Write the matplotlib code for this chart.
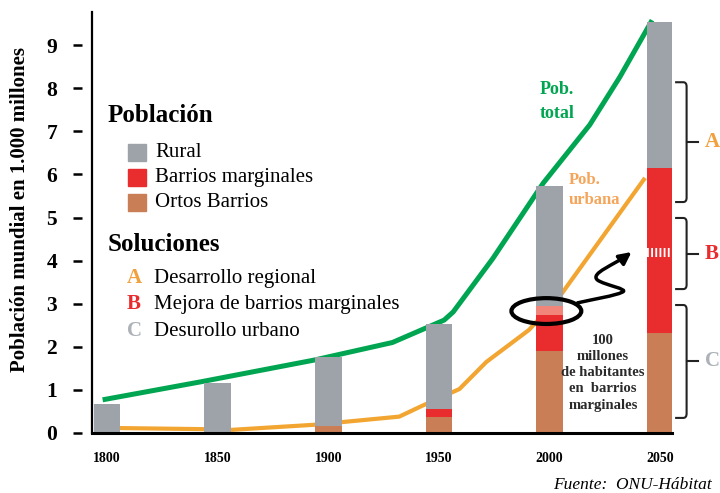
import matplotlib.pyplot as plt
from matplotlib.patches import Ellipse, Rectangle, FancyArrowPatch, PathPatch
from matplotlib.path import Path

plt.rcParams['font.family'] = ['Liberation Serif', 'DejaVu Serif']

# population (1.000 millones) per bar, bottom to top
years = [1800, 1850, 1900, 1950, 2000, 2050]
otros = [0.0, 0.0, 0.16, 0.36, 1.90, 2.32]
marginales = [0.0, 0.0, 0.0, 0.19, 0.84, 3.83]
marginales_100m = [0.0, 0.0, 0.0, 0.0, 0.21, 0.0]
rural = [0.68, 1.15, 1.60, 1.98, 2.78, 3.39]

# curves
total_x = [1798, 1842.6, 1893.4, 1929, 1952.4, 1956.5, 1974.4, 1997.2, 2018.2, 2031.8, 2046.4]
total_y = [0.77, 1.19, 1.69, 2.10, 2.62, 2.81, 4.05, 5.80, 7.15, 8.26, 9.58]
urbana_x = [1797, 1842.6, 1855.3, 1893.4, 1932.1, 1942.4, 1959.3, 1971.5, 1990.7, 2004.5, 2043.2]
urbana_y = [0.12, 0.09, 0.07, 0.19, 0.38, 0.63, 1.02, 1.65, 2.39, 3.16, 5.92]

# brace ranges on the 2050 bar
braces = [('A', 5.36, 8.14), ('B', 3.34, 4.99), ('C', 0.35, 2.97)]
marca_2050 = (4.08, 0.22)

c_gris = '#9ea3a9'
c_rojo = '#e92d2f'
c_marron = '#c97e56'
c_rosa = '#f28579'
c_verde = '#00a551'
c_naranja = '#f2a531'
c_letra = {'A': '#f29f3d', 'B': '#e92d2f', 'C': '#adb2b8'}

W, H = 720, 493
def fx(x):
    return x / W
def fy(y):
    return 1 - y / H

fig = plt.figure(figsize=(7.2, 4.93), dpi=100)
ax = fig.add_axes([fx(92), fy(433), (672 - 92) / W, (433 - 12) / H])
ax.set_xlim(1793.2, 2055.4)
ax.set_ylim(0, 9.77)

ax.plot(total_x, total_y, color=c_verde, lw=3.6, zorder=1, solid_capstyle='butt')
ax.plot(urbana_x, urbana_y, color=c_naranja, lw=3.0, zorder=1, solid_capstyle='butt')

bw = 12
b1 = otros
b2 = [a + b for a, b in zip(b1, marginales)]
b3 = [a + b for a, b in zip(b2, marginales_100m)]
ax.bar(years, otros, width=bw, color=c_marron, zorder=2)
ax.bar(years, marginales, bottom=b1, width=bw, color=c_rojo, zorder=2)
ax.bar(years, marginales_100m, bottom=b2, width=bw, color=c_rosa, zorder=2)
ax.bar(years, rural, bottom=b3, width=bw, color=c_gris, zorder=2)

plt.rcParams['hatch.linewidth'] = 1.3
ax.bar(2050, marca_2050[1], bottom=marca_2050[0], width=bw, color=c_rojo,
       edgecolor='white', hatch='||||', lw=0, zorder=3)

# ellipse + squiggly arrow
ax.add_patch(Ellipse((1998.6, 2.83), 31.6, 0.60, fill=False, ec='black', lw=3, zorder=5))
verts = [(2012.7, 3.02), (2020.3, 3.11), (2029.4, 3.18), (2033.0, 3.27),
         (2036.2, 3.34), (2024.9, 3.43), (2021.7, 3.55),
         (2018.1, 3.71), (2029.4, 3.90), (2037.1, 4.20)]
codes = [Path.MOVETO] + [Path.CURVE4] * 9
ax.add_patch(FancyArrowPatch(path=Path(verts, codes), arrowstyle='-|>', mutation_scale=18,
                             lw=2.5, color='black', zorder=6))

# braces
for letra, lo, hi in braces:
    x0, x1, x2 = 2056.8, 2062.0, 2067.0
    ry = 0.1
    bv = [(x0, hi), (x1 - 1.5, hi), (x1, hi), (x1, hi - ry), (x1, lo + ry),
          (x1, lo), (x1 - 1.5, lo), (x0, lo)]
    bc = [Path.MOVETO, Path.LINETO, Path.CURVE3, Path.CURVE3, Path.LINETO,
          Path.CURVE3, Path.CURVE3, Path.LINETO]
    ax.add_patch(PathPatch(Path(bv, bc), fill=False, ec='#222222', lw=1.5, clip_on=False))
    mid = (lo + hi) / 2
    ax.plot([x1, x2], [mid, mid], color='#222222', lw=1.5, clip_on=False)
    ax.text(2073.5, mid, letra, color=c_letra[letra], fontsize=15, fontweight='bold',
            ha='center', va='center', clip_on=False)

for s in ['top', 'right']:
    ax.spines[s].set_visible(False)
ax.spines['left'].set_position(('outward', 7.2))
ax.spines['left'].set_visible(False)
ax.axvline(1793.2, color='black', lw=1.6, clip_on=False, zorder=5)
ax.spines['bottom'].set_linewidth(2.2)
ax.spines['bottom'].set_zorder(5)

ax.set_yticks(range(10))
ax.set_yticklabels([str(i) for i in range(10)], fontsize=15.5, fontweight='bold')
ax.tick_params(axis='y', direction='out', length=6.5, width=1.8, pad=11.5)
ax.set_xticks(years)
ax.set_xticklabels([str(y) for y in years], fontsize=10, fontweight='bold')
ax.tick_params(axis='x', length=0, pad=14)

fig.text(fx(20), fy(209), 'Población mundial en 1.000 millones', rotation=90,
         fontsize=15, fontweight='bold', ha='center', va='center')

# legend
fig.text(fx(108), fy(116), 'Población', fontsize=18, fontweight='bold', va='center')
for (lab, col), yy in zip([('Rural', c_gris), ('Barrios marginales', c_rojo),
                           ('Ortos Barrios', c_marron)], [152.5, 177.5, 202.5]):
    fig.add_artist(Rectangle((fx(128), fy(yy + 8.5)), 18 / W, 17 / H, color=col,
                             transform=fig.transFigure))
    fig.text(fx(155), fy(yy), lab, fontsize=15, va='center')

fig.text(fx(108), fy(244), 'Soluciones', fontsize=18, fontweight='bold', va='center')
for (letra, lab), yy in zip([('A', 'Desarrollo regional'), ('B', 'Mejora de barrios marginales'),
                             ('C', 'Desurollo urbano')], [278, 304, 331]):
    fig.text(fx(127), fy(yy), letra, fontsize=15, fontweight='bold', color=c_letra[letra],
             va='center')
    fig.text(fx(154), fy(yy), lab, fontsize=15, va='center')

fig.text(fx(540), fy(90), 'Pob.', fontsize=13, fontweight='bold', color=c_verde, va='center')
fig.text(fx(540), fy(113), 'total', fontsize=13, fontweight='bold', color=c_verde, va='center')
fig.text(fx(569), fy(180), 'Pob.', fontsize=12, fontweight='bold', color='#f5a55a', va='center')
fig.text(fx(569), fy(200), 'urbana', fontsize=12, fontweight='bold', color='#f5a55a', va='center')

fig.text(fx(603), fy(373), '100\nmillones\nde habitantes\nen  barrios\nmarginales',
         fontsize=10.5, fontweight='bold', color='#2a2a2a', ha='center', va='center',
         linespacing=1.3)

fig.text(fx(712), fy(485), 'Fuente:  ONU-Hábitat', fontsize=12.5, style='italic',
         ha='right', va='center')

fig.savefig('out.png', dpi=100)
